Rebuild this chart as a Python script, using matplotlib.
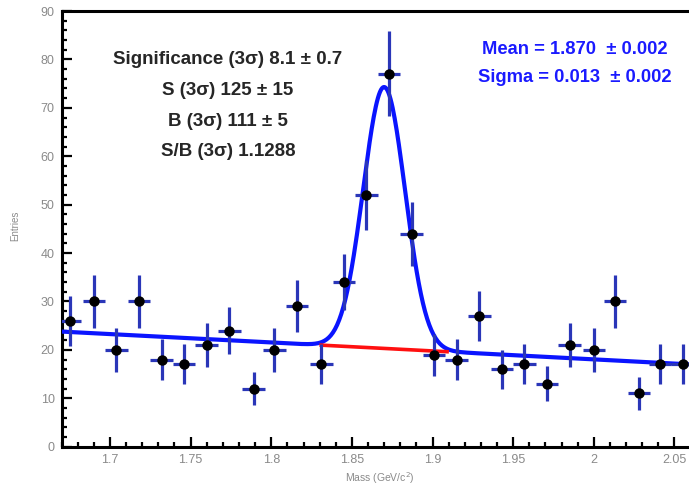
import numpy as np
import matplotlib.pyplot as plt
from matplotlib.ticker import MultipleLocator, FuncFormatter

# invariant-mass histogram (bin centres, entries)
mass = [1.675, 1.690, 1.704, 1.718, 1.732, 1.746, 1.760, 1.774, 1.789, 1.802,
        1.816, 1.831, 1.845, 1.859, 1.873, 1.887, 1.901, 1.915, 1.929, 1.943,
        1.957, 1.971, 1.985, 2.000, 2.013, 2.028, 2.041, 2.055]
entries = [26, 30, 20, 30, 18, 17, 21, 24, 12, 20,
           29, 17, 34, 52, 77, 44, 19, 18, 27, 16,
           17, 13, 21, 20, 30, 11, 17, 17]
bin_width = 0.014

# fit result: gaussian + linear background
mean, sigma = 1.870, 0.013
amp = 54.0
bkg_at_mean, bkg_slope = 20.3, -17.4

stats_lines = ["Significance (3\u03c3) 8.1 \u00b1 0.7",
               "S (3\u03c3) 125 \u00b1 15",
               "B (3\u03c3) 111 \u00b1 5",
               "S/B (3\u03c3) 1.1288"]
fit_lines = ["Mean = 1.870  \u00b1 0.002",
             "Sigma = 0.013  \u00b1 0.002"]


def background(x):
    return bkg_at_mean + bkg_slope * (x - mean)


def total(x):
    return background(x) + amp * np.exp(-0.5 * ((x - mean) / sigma) ** 2)


plt.rcParams['font.family'] = ['Liberation Sans', 'DejaVu Sans']

W, H = 689, 487
fig = plt.figure(figsize=(W / 100, H / 100), dpi=100)
x0, x1 = 1.67, 2.059
ax = fig.add_axes([61.6 / W, (H - 446.7) / H, (W - 61.6) / W, 435.7 / H])
ax.set_xlim(x0, x1)
ax.set_ylim(0, 90)

m = np.array(mass)
n = np.array(entries)
ax.errorbar(m, n, yerr=np.sqrt(n), xerr=bin_width / 2, fmt='o', ms=6.5,
            mfc='black', mec='black', ecolor='#2a36b8', elinewidth=2.3,
            capsize=0, zorder=4)

xs = np.linspace(x0, x1, 600)
ax.plot(xs, total(xs), color='#0a14ff', lw=3.0, zorder=3)
xr = np.linspace(mean - 3 * sigma, mean + 3 * sigma, 100)
ax.plot(xr, background(xr), color='#ff1010', lw=2.6, zorder=3.5)

ax.spines['right'].set_visible(False)
for s in ['left', 'bottom', 'top']:
    ax.spines[s].set_linewidth(2.2)

ax.xaxis.set_major_locator(MultipleLocator(0.05))
ax.xaxis.set_minor_locator(MultipleLocator(0.01))
ax.yaxis.set_major_locator(MultipleLocator(10))
ax.yaxis.set_minor_locator(MultipleLocator(2))
ax.xaxis.set_major_formatter(FuncFormatter(lambda v, p: ('%.2f' % v).rstrip('0').rstrip('.')))
ax.tick_params(which='both', direction='in', width=1.6, colors='black',
               labelcolor='#8a8a8a', labelsize=9)
ax.tick_params(which='major', length=7)
ax.tick_params(which='minor', length=3.5)
ax.tick_params(axis='x', pad=5)
ax.tick_params(axis='y', pad=5)

for i, t in enumerate(stats_lines):
    fig.text(228 / W, 1 - (60 + 30.5 * i) / H, t, ha='center', va='center',
             fontsize=13.5, fontweight='bold', color='#262626')
for i, t in enumerate(fit_lines):
    fig.text(575 / W, 1 - (49 + 28 * i) / H, t, ha='center', va='center',
             fontsize=13.2, fontweight='bold', color='#1a1aff')

fig.text(15 / W, 1 - 226 / H, 'Entries', rotation=90, ha='center',
         va='center', fontsize=7, color='#8a8a8a')
fig.text(380 / W, 1 - 478 / H, 'Mass (GeV/c$^{2}$)', ha='center',
         va='center', fontsize=7.5, color='#8a8a8a')

fig.savefig('out.png', dpi=100)
